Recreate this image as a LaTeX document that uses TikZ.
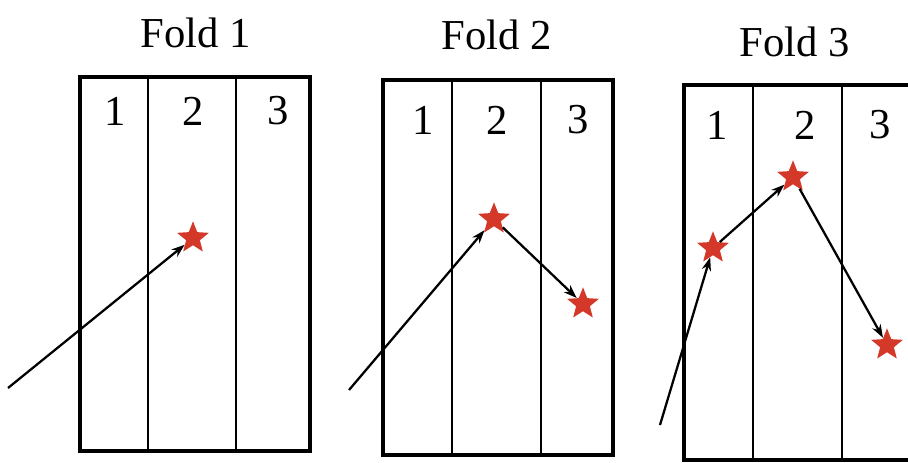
\documentclass[tikz,border=0pt]{standalone}
\usepackage{fontspec}
\setmainfont{Liberation Serif}
\usetikzlibrary{shapes.geometric,arrows.meta}
\definecolor{starred}{RGB}{212,56,40}
\tikzset{
  outerbox/.style={line width=2.6pt},
  divider/.style={line width=1.8pt},
  title/.style={font=\fontsize{32}{37}\selectfont, inner sep=0pt},
  colnum/.style={font=\fontsize{32}{37}\selectfont, inner sep=0pt},
  starnode/.style={star, star points=5, star point ratio=2.3, fill=starred, draw=none, minimum size=25pt, inner sep=0pt},
  path/.style={line width=1.7pt, -{Stealth[length=10pt,width=7pt]}},
}
\begin{document}
\begin{tikzpicture}[x=0.75pt,y=-0.75pt]
\clip (0,0) rectangle (908,462);
\fill[white] (0,0) rectangle (908,462);
% Fold 1
\node[title] (t1) at (196,33) {Fold 1};
\draw[outerbox] (80,77) rectangle (310,451);
\draw[divider] (148,77) -- (148,451);
\draw[divider] (236,77) -- (236,451);
\node[colnum] (a1) at (115,111) {1};
\node[colnum] (a2) at (193,111) {2};
\node[colnum] (a3) at (278,111) {3};
\node[starnode] (s11) at (193,238) {};
\coordinate (st1) at (8,388);
\draw[path] (st1) -- (s11);
% Fold 2
\node[title] (t2) at (497,35) {Fold 2};
\draw[outerbox] (383,80) rectangle (613,455);
\draw[divider] (452,80) -- (452,455);
\draw[divider] (541,80) -- (541,455);
\node[colnum] (b1) at (423,120) {1};
\node[colnum] (b2) at (497,120) {2};
\node[colnum] (b3) at (578,120) {3};
\node[starnode] (s21) at (494,219) {};
\node[starnode] (s22) at (583,304) {};
\coordinate (st2) at (349,390);
\draw[path] (st2) -- (s21);
\draw[path] (s21) -- (s22);
% Fold 3
\node[title] (t3) at (795,42) {Fold 3};
\draw[outerbox] (684,85) rectangle (914,460);
\draw[divider] (753,85) -- (753,460);
\draw[divider] (842,85) -- (842,460);
\node[colnum] (c1) at (717,125) {1};
\node[colnum] (c2) at (805,125) {2};
\node[colnum] (c3) at (880,125) {3};
\node[starnode] (s31) at (713,248) {};
\node[starnode] (s32) at (793,177) {};
\node[starnode] (s33) at (887,345) {};
\coordinate (st3) at (660,425);
\draw[path] (st3) -- (s31);
\draw[path] (s31) -- (s32);
\draw[path] (s32) -- (s33);
\end{tikzpicture}
\end{document}
